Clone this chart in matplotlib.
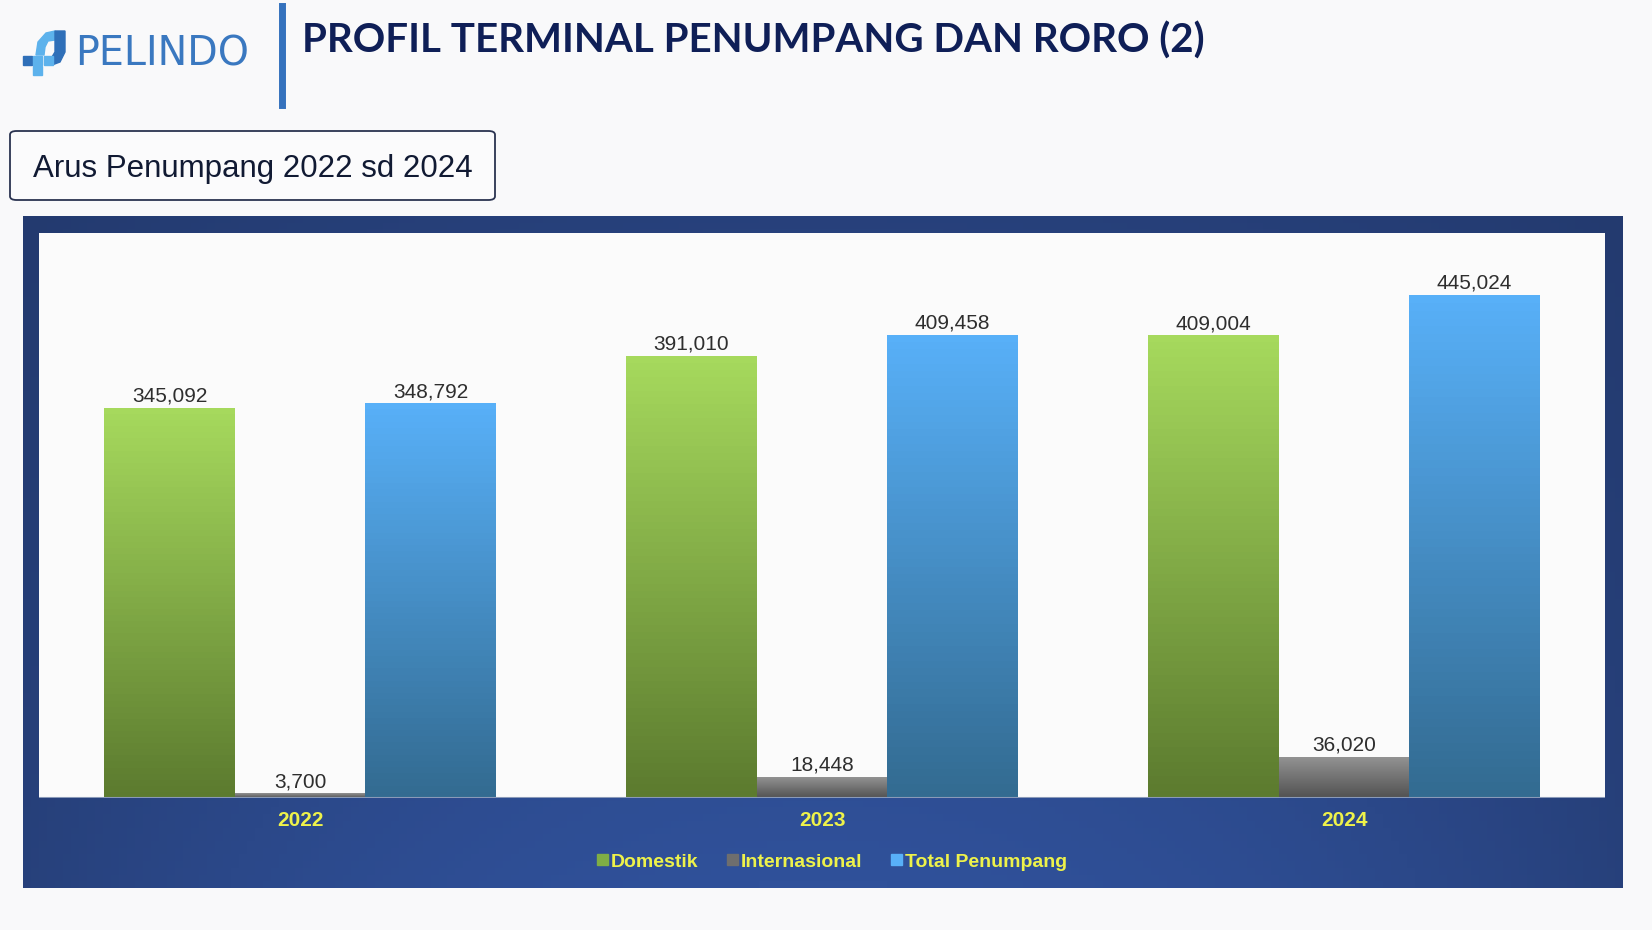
import numpy as np
import matplotlib
matplotlib.use("Agg")
import matplotlib.pyplot as plt
from matplotlib.colors import LinearSegmentedColormap
from matplotlib.patches import FancyBboxPatch, Polygon, Rectangle
from matplotlib.lines import Line2D

# data
years = ["2022", "2023", "2024"]
domestik = [345092, 391010, 409004]
internasional = [3700, 18448, 36020]
total = [348792, 409458, 445024]
series_names = ["Domestik", "Internasional", "Total Penumpang"]

W, H = 1652, 930
fig = plt.figure(figsize=(W / 100, H / 100), dpi=100)
fig.patch.set_facecolor("#f9f9fa")


def px(x0, y0, x1, y1):
    # pixel box (top-left origin) -> figure rect
    return [x0 / W, 1 - y1 / H, (x1 - x0) / W, (y1 - y0) / H]


def fx(x):
    return x / W


def fy(y):
    return 1 - y / H


# header: logo
logo_dark = "#2f6fb8"
logo_light = "#5db2ec"
fig.patches.append(Polygon([(fx(36), fy(55)), (fx(38), fy(42)), (fx(46), fy(33)), (fx(55), fy(31)),
                            (fx(55), fy(40)), (fx(48), fy(41)), (fx(45), fy(47)), (fx(44), fy(55))],
                           closed=True, transform=fig.transFigure, color=logo_light))
fig.patches.append(Polygon([(fx(55), fy(31)), (fx(65), fy(31)), (fx(65), fy(52)), (fx(60), fy(62)),
                            (fx(52), fy(65)), (fx(52), fy(57)), (fx(55), fy(52))],
                           closed=True, transform=fig.transFigure, color=logo_dark))
for (sx, sy, c) in [(23, 56, logo_dark), (33, 56, logo_light), (44, 56, logo_light), (33, 66, logo_light)]:
    fig.patches.append(Rectangle((fx(sx), fy(sy + 9)), 9 / W, 9 / H, transform=fig.transFigure, color=c))
fig.text(fx(75), fy(54), "PELINDO", fontsize=28.5, color="#3a78c0", family="DejaVu Sans",
         va="center", ha="left")

# vertical divider
fig.add_artist(Line2D([fx(282), fx(282)], [fy(6), fy(105)], color="#3572bd", lw=5, transform=fig.transFigure))

# title
fig.text(fx(302), fy(53), "PROFIL TERMINAL PENUMPANG DAN RORO (2)", fontsize=29, fontweight="bold",
         color="#0f1f57", family="Lato", va="baseline", ha="left")

# subtitle box
fig.patches.append(FancyBboxPatch((fx(10), fy(200)), (495 - 10) / W, (200 - 131) / H,
                                  boxstyle="round,pad=0,rounding_size=0.004", transform=fig.transFigure,
                                  facecolor="#fbfbfc", edgecolor="#2a3350", lw=1.3))
fig.text(fx(33), fy(169), "Arus Penumpang 2022 sd 2024", fontsize=22.5, color="#111a33",
         family="Liberation Sans", va="center", ha="left")

# frame with gradient
frame = fig.add_axes(px(23, 216, 1623, 888))
gx = np.linspace(-1, 1, 200)
gy = np.linspace(0, 1, 100)
GX, GY = np.meshgrid(gx, gy)
glow = np.clip(1 - 0.6 * GX ** 2, 0, 1) * (0.4 + 0.6 * GY)
frame_cmap = LinearSegmentedColormap.from_list("frame", ["#213667", "#30519a"])
frame.imshow(glow, cmap=frame_cmap, aspect="auto", extent=[0, 1, 0, 1], origin="upper", vmin=0, vmax=1)
frame.set_axis_off()

# chart
ax = fig.add_axes(px(39, 233, 1605, 798))
ax.set_facecolor("#fbfbfb")
for s in ax.spines.values():
    s.set_visible(False)

x = np.arange(len(years))
bw = 0.25
grads = [("#5c7b2f", "#a6d95d"), ("#525252", "#929292"), ("#336b91", "#58b0f8")]
data = [domestik, internasional, total]

for i, (vals, (c0, c1)) in enumerate(zip(data, grads)):
    bars = ax.bar(x + (i - 1) * bw, vals, bw, color="none", edgecolor="none", label=series_names[i])
    cmap = LinearSegmentedColormap.from_list("g%d" % i, [c0, c1])
    for b, v in zip(bars, vals):
        ax.imshow(np.linspace(0, 1, 64).reshape(-1, 1), cmap=cmap, aspect="auto", origin="lower",
                  extent=[b.get_x(), b.get_x() + b.get_width(), 0, b.get_height()], zorder=2)
        ax.annotate(f"{v:,}", (b.get_x() + b.get_width() / 2, v), xytext=(0, 2), textcoords="offset points",
                    ha="center", va="bottom", fontsize=15, color="#2e2e2e", family="Liberation Sans")

ax.set_xlim(-0.5, 2.5)
ax.set_ylim(0, 500000)
ax.set_yticks([])
ax.set_xticks(x)
ax.set_xticklabels(years, fontsize=15, fontweight="bold", color="#eef24a", family="Liberation Sans")
ax.tick_params(axis="x", length=0, pad=9)
ax.axhline(0, color="#8a9ab8", lw=1.5, zorder=3)

# legend
handles = [Rectangle((0, 0), 1, 1, color=c) for c in ["#7fae45", "#6e6e6e", "#58b0f8"]]
fig.legend(handles, series_names, loc="center", bbox_to_anchor=(fx(832), fy(862)), ncol=3, frameon=False,
           handlelength=0.55, handleheight=0.55, handletextpad=0.15, columnspacing=1.5,
           prop={"family": "Liberation Sans", "weight": "bold", "size": 14}, labelcolor="#eef24a")

fig.savefig("out.png", dpi=100, facecolor=fig.get_facecolor())
